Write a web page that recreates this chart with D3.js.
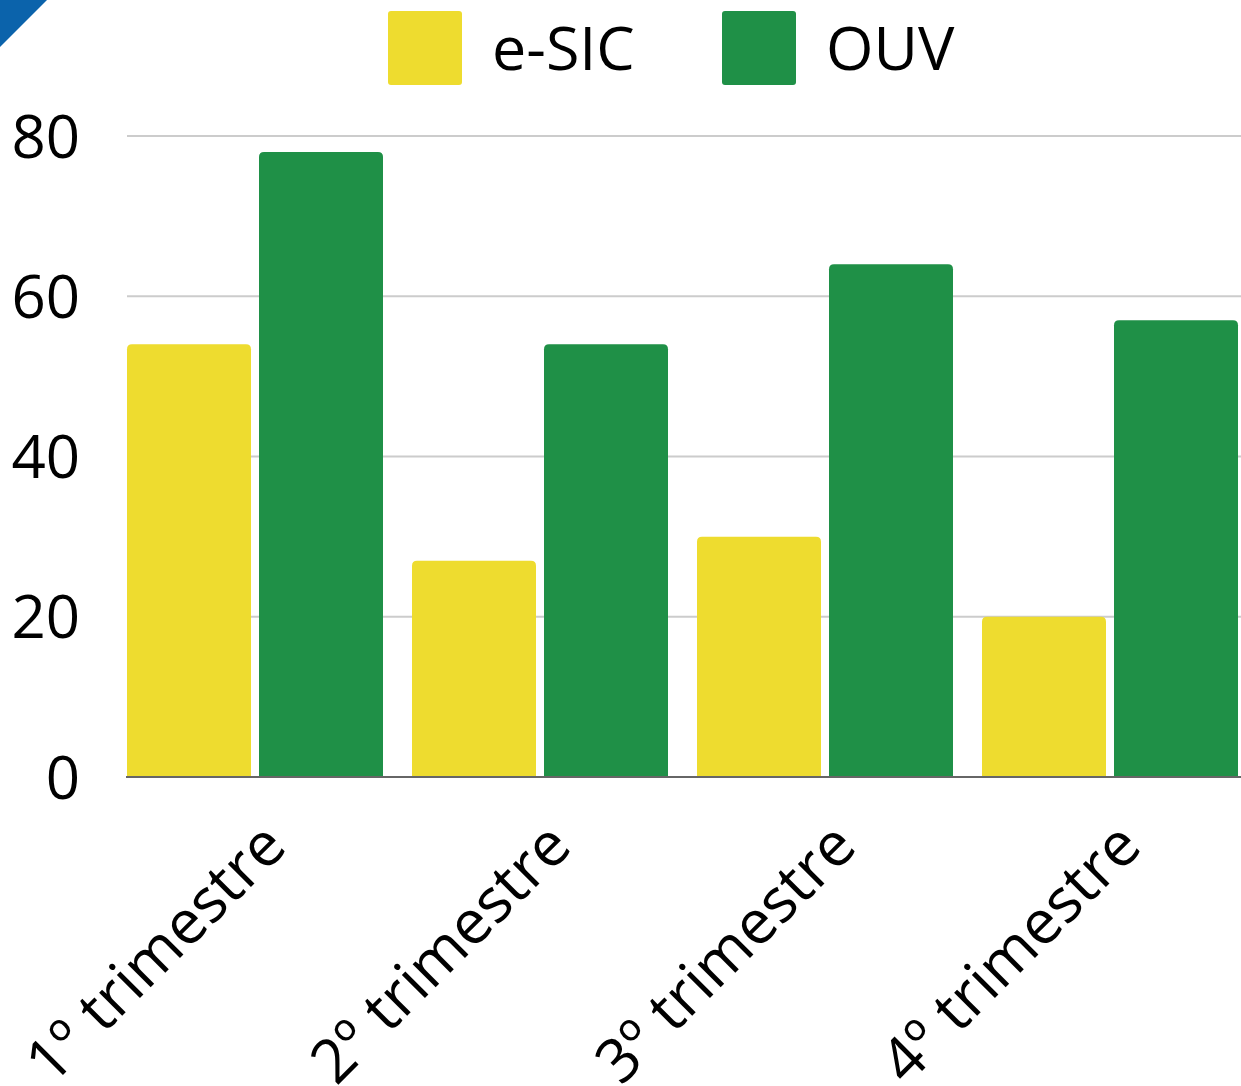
<!DOCTYPE html>
<html>
<head>
<meta charset="utf-8">
<script src="https://cdn.jsdelivr.net/npm/d3@7"></script>
<style>
  body { margin: 0; background: #fff; }
  text { font-family: "Open Sans", sans-serif; fill: #000; }
</style>
</head>
<body>
<script>
var categories = ["1º trimestre", "2º trimestre", "3º trimestre", "4º trimestre"];
var seriesNames = ["e-SIC", "OUV"];
var esicValues = [54, 27, 30, 20];
var ouvValues = [78, 54, 64, 57];
var yTicks = [0, 20, 40, 60, 80];
var colors = ["#eedc2f", "#1f9047"];

var width = 1241, height = 1086;
var plot = {left: 127, right: 1238, top: 136, bottom: 777};

var data = categories.map(function(c, i) {
	return {cat: c, values: [esicValues[i], ouvValues[i]]};
});

var svg = d3.select("body").append("svg")
	.attr("width", width)
	.attr("height", height);

// corner mark
svg.append("path")
	.attr("d", "M0,0 L47,0 L0,47 Z")
	.attr("fill", "#0b63ab");

var x0 = d3.scaleBand()
	.domain(categories)
	.range([plot.left, plot.right])
	.paddingInner(29 / 285)
	.paddingOuter(0);

var x1 = d3.scaleBand()
	.domain(seriesNames)
	.range([0, x0.bandwidth()])
	.paddingInner(8 / 132);

var y = d3.scaleLinear().domain([0, 80]).range([plot.bottom, plot.top]);

// grid
svg.append("g").selectAll("line")
	.data(yTicks.slice(1))
	.enter().append("line")
	.attr("x1", plot.left)
	.attr("x2", width)
	.attr("y1", function(d) { return y(d); })
	.attr("y2", function(d) { return y(d); })
	.attr("stroke", "#cccccc")
	.attr("stroke-width", 2);

// y labels
svg.append("g").selectAll("text")
	.data(yTicks)
	.enter().append("text")
	.attr("x", 80)
	.attr("y", function(d) { return y(d); })
	.attr("dy", "0.36em")
	.attr("text-anchor", "end")
	.style("font-size", "60px")
	.text(function(d) { return d; });

function topRounded(x, yTop, w, yBot, r) {
	return "M" + x + "," + yBot +
		"L" + x + "," + (yTop + r) +
		"Q" + x + "," + yTop + " " + (x + r) + "," + yTop +
		"L" + (x + w - r) + "," + yTop +
		"Q" + (x + w) + "," + yTop + " " + (x + w) + "," + (yTop + r) +
		"L" + (x + w) + "," + yBot + "Z";
}

// bars
var groups = svg.append("g").selectAll("g")
	.data(data)
	.enter().append("g")
	.attr("transform", function(d) { return "translate(" + x0(d.cat) + ",0)"; });

groups.selectAll("path")
	.data(function(d) { return d.values.map(function(v, i) { return {key: seriesNames[i], value: v, i: i}; }); })
	.enter().append("path")
	.attr("d", function(d) { return topRounded(x1(d.key), y(d.value), x1.bandwidth(), y(0) + 1, 5); })
	.attr("fill", function(d) { return colors[d.i]; });

// baseline
svg.append("line")
	.attr("x1", plot.left - 1)
	.attr("x2", width)
	.attr("y1", y(0))
	.attr("y2", y(0))
	.attr("stroke", "#666")
	.attr("stroke-width", 2);

// x labels
svg.append("g").selectAll("text")
	.data(categories)
	.enter().append("text")
	.attr("transform", function(d) {
		var cx = x0(d) + x0.bandwidth() / 2 + 34;
		return "translate(" + cx + "," + (plot.bottom + 72) + ") rotate(-45)";
	})
	.attr("text-anchor", "end")
	.style("font-size", "61px")
	.text(function(d) { return d; });

// legend
var legend = svg.append("g").selectAll("g")
	.data(seriesNames)
	.enter().append("g")
	.attr("transform", function(d, i) { return "translate(" + [388, 722][i] + ",11)"; });

legend.append("rect")
	.attr("width", 74)
	.attr("height", 74)
	.attr("rx", 3)
	.attr("fill", function(d, i) { return colors[i]; });

legend.append("text")
	.attr("x", 104)
	.attr("y", 59)
	.style("font-size", "61px")
	.text(function(d) { return d; });
</script>
</body>
</html>
